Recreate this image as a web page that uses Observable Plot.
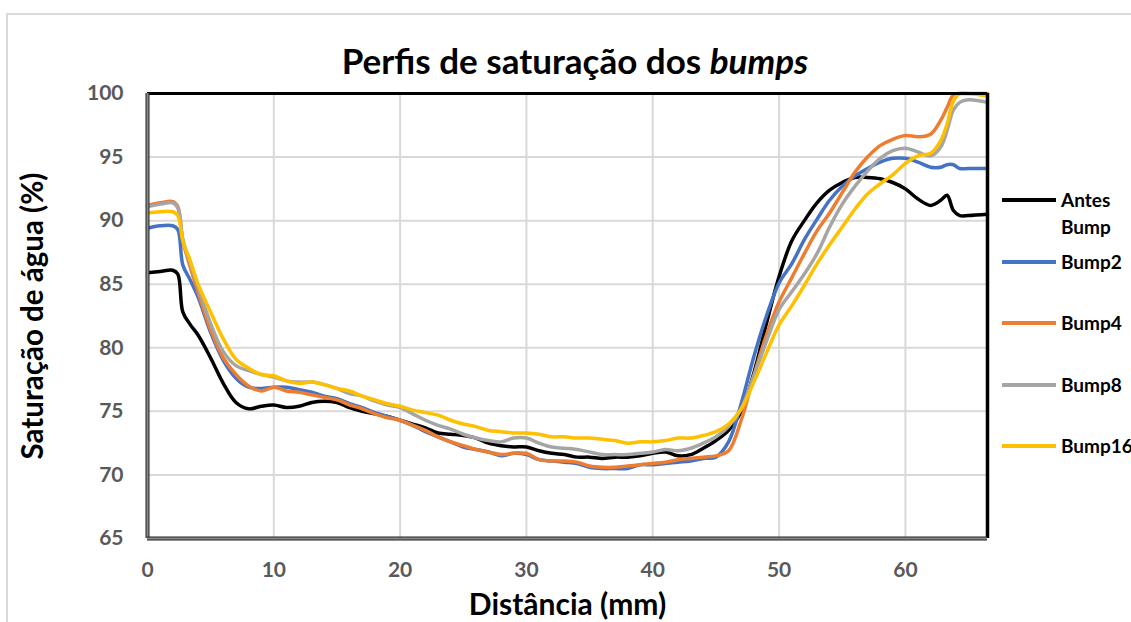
<!DOCTYPE html>
<html>
<head>
<meta charset="utf-8">
<script src="https://cdn.jsdelivr.net/npm/d3@7"></script>
<script src="https://cdn.jsdelivr.net/npm/@observablehq/plot@0.6"></script>
<style>
  html, body { margin: 0; padding: 0; background: #fff; overflow: hidden; width: 1131px; height: 622px; }
  body { font-family: Lato, "Open Sans", sans-serif; position: relative; }
  #border { position: absolute; left: 6px; top: 13px; width: 1200px; height: 700px; border-left: 2px solid #d9d9d9; border-top: 2px solid #d9d9d9; }
  #title { position: relative; height: 80px; box-sizing: border-box; padding-top: 40px; padding-left: 19px; text-align: center; font-size: 35px; line-height: 40px; font-weight: bold; color: #000; }
  #chart { position: relative; }
  #legend { position: absolute; left: 0; top: 0; }
  .item { position: absolute; left: 1002px; display: flex; align-items: flex-start; font-weight: bold; font-size: 19px; line-height: 27px; color: #000; white-space: nowrap; }
  .sw { width: 54px; height: 3.5px; margin-top: 12px; margin-right: 5px; flex: none; }
  .lab { width: 62px; white-space: normal; }
</style>
</head>
<body>
<div id="border"></div>
<div id="title">Perfis de saturação dos <i>bumps</i></div>
<div id="chart"></div>
<div id="legend"></div>
<script>
// ---- data ----
const distance = [0, 1, 2, 2.4, 2.8, 3.4, 4, 5, 6, 7, 8, 9, 10, 11, 12, 13, 14, 15, 16, 17, 18, 19, 20, 21, 22, 23, 24, 25, 26, 27, 28, 29, 30, 31, 32, 33, 34, 35, 36, 37, 38, 39, 40, 41, 42, 43, 44, 45, 46, 47, 48, 49, 50, 51, 52, 53, 54, 55, 56, 57, 58, 59, 60, 61, 62, 62.8, 63.3, 63.8, 64.3, 65, 66.5];

const antesBump = [85.9, 86.0, 86.1, 85.8, 82.8, 81.8, 81.0, 79.2, 77.2, 75.7, 75.2, 75.4, 75.5, 75.3, 75.4, 75.7, 75.8, 75.7, 75.3, 75.0, 74.8, 74.6, 74.3, 74.0, 73.7, 73.3, 73.2, 73.1, 72.9, 72.5, 72.3, 72.2, 72.2, 71.9, 71.7, 71.6, 71.4, 71.4, 71.3, 71.4, 71.4, 71.5, 71.7, 71.8, 71.5, 71.6, 72.1, 72.7, 73.5, 75.0, 78.0, 81.9, 85.6, 88.4, 90.0, 91.4, 92.4, 93.0, 93.4, 93.4, 93.3, 93.0, 92.5, 91.7, 91.2, 91.6, 92.0, 90.8, 90.4, 90.4, 90.5];

const bump2 = [89.4, 89.6, 89.6, 89.3, 86.5, 85.3, 84.0, 81.2, 79.0, 77.6, 76.9, 76.8, 76.9, 76.9, 76.7, 76.5, 76.2, 76.0, 75.6, 75.3, 74.9, 74.6, 74.3, 73.9, 73.4, 73.0, 72.6, 72.2, 72.0, 71.8, 71.5, 71.7, 71.6, 71.2, 71.1, 71.0, 70.9, 70.6, 70.5, 70.5, 70.5, 70.8, 70.8, 70.9, 71.0, 71.1, 71.3, 71.4, 72.6, 75.6, 79.3, 82.5, 85.1, 86.6, 88.5, 90.1, 91.6, 92.7, 93.5, 94.1, 94.6, 94.9, 94.9, 94.6, 94.2, 94.2, 94.4, 94.4, 94.1, 94.1, 94.1];

const bump4 = [91.2, 91.4, 91.5, 91.1, 88.4, 86.3, 84.4, 81.4, 79.2, 77.9, 77.0, 76.6, 76.9, 76.6, 76.5, 76.3, 76.1, 75.9, 75.5, 75.2, 74.8, 74.5, 74.3, 73.9, 73.5, 73.0, 72.6, 72.3, 72.0, 71.8, 71.6, 71.7, 71.7, 71.2, 71.1, 71.1, 71.0, 70.7, 70.6, 70.6, 70.7, 70.8, 70.9, 71.0, 71.2, 71.3, 71.4, 71.5, 71.9, 74.3, 77.8, 81.0, 83.6, 85.5, 87.4, 89.2, 90.6, 92.2, 93.8, 95.0, 95.9, 96.4, 96.7, 96.6, 96.8, 97.9, 98.9, 99.9, 100.0, 100.0, 100.0];

const bump8 = [91.1, 91.3, 91.4, 91.0, 88.5, 86.6, 84.8, 81.9, 79.7, 78.6, 78.2, 77.9, 77.7, 77.4, 77.3, 77.3, 77.1, 76.8, 76.4, 76.2, 75.8, 75.5, 75.3, 74.8, 74.3, 73.9, 73.6, 73.2, 72.9, 72.7, 72.6, 72.9, 72.9, 72.5, 72.2, 72.1, 72.0, 71.8, 71.6, 71.6, 71.6, 71.7, 71.8, 72.0, 71.9, 72.1, 72.5, 73.0, 73.8, 75.2, 77.8, 80.5, 83.0, 84.4, 85.8, 87.4, 89.5, 91.3, 92.7, 93.9, 94.9, 95.5, 95.7, 95.4, 95.1, 95.8, 97.1, 98.7, 99.3, 99.5, 99.3];

const bump16 = [90.6, 90.7, 90.7, 90.4, 88.4, 86.8, 85.0, 82.8, 80.7, 79.1, 78.4, 77.9, 77.8, 77.4, 77.2, 77.3, 77.1, 76.8, 76.6, 76.2, 75.9, 75.6, 75.4, 75.1, 74.9, 74.7, 74.3, 74.0, 73.8, 73.5, 73.4, 73.3, 73.3, 73.2, 73.0, 73.0, 72.9, 72.9, 72.8, 72.7, 72.5, 72.6, 72.6, 72.7, 72.9, 72.9, 73.1, 73.4, 74.0, 75.2, 77.3, 79.6, 81.8, 83.3, 84.9, 86.6, 88.1, 89.5, 90.9, 92.1, 92.9, 93.6, 94.5, 95.1, 95.3, 96.3, 97.6, 99.4, 100.0, 100.0, 99.8];

const seriesNames = ["Antes Bump", "Bump2", "Bump4", "Bump8", "Bump16"];
const seriesColors = ["#000000", "#4472C4", "#ED7D31", "#A5A5A5", "#FFC000"];
const seriesValues = [antesBump, bump2, bump4, bump8, bump16];

const xTicks = [0, 10, 20, 30, 40, 50, 60];
const yTicks = [65, 70, 75, 80, 85, 90, 95, 100];
const xDomain = [0, 66.5];
const yDomain = [65, 100];

// ---- build table ----
const rows = [];
seriesNames.forEach((name, s) => {
  distance.forEach((d, i) => rows.push({series: name, x: d, y: seriesValues[s][i]}));
});

const tickFont = {fontSize: 21, fontWeight: "bold", fill: "#595959"};

const chart = Plot.plot({
  width: 1131,
  height: 542,
  marginTop: 13,
  marginBottom: 84,
  marginLeft: 147,
  marginRight: 144,
  style: {fontFamily: "Lato, 'Open Sans', sans-serif", background: "transparent", overflow: "visible"},
  x: {domain: xDomain, ticks: xTicks},
  y: {domain: yDomain, ticks: yTicks},
  color: {domain: seriesNames, range: seriesColors},
  marks: [
    Plot.ruleX(xTicks, {stroke: "#d9d9d9", strokeWidth: 2}),
    Plot.ruleY(yTicks, {stroke: "#d9d9d9", strokeWidth: 2}),
    Plot.axisX({ticks: xTicks, tickSize: 0, tickPadding: 24, label: null, ...tickFont}),
    Plot.axisY({ticks: yTicks, tickSize: 0, tickPadding: 24, label: null, ...tickFont}),
    Plot.text(["Distância (mm)"], {frameAnchor: "bottom", lineAnchor: "middle", dy: 67, fontSize: 30, fontWeight: "bold", fill: "#000"}),
    Plot.text(["Saturação de água (%)"], {frameAnchor: "left", lineAnchor: "middle", textAnchor: "middle", rotate: -90, dx: -114, fontSize: 29.5, fontWeight: "bold", fill: "#000"}),
    Plot.line(rows, {x: "x", y: "y", z: "series", stroke: "series", strokeWidth: 3.5, curve: "catmull-rom"}),
    Plot.ruleY([yDomain[1]], {stroke: "#000", strokeWidth: 3}),
    Plot.ruleX([xDomain[1]], {stroke: "#000", strokeWidth: 3.5}),
    Plot.ruleX([xDomain[0]], {stroke: "#222", strokeWidth: 4}),
    Plot.ruleX([xDomain[0]], {stroke: "#8a8a8a", strokeWidth: 2}),
    Plot.ruleY([yDomain[0]], {stroke: "#222", strokeWidth: 4}),
    Plot.ruleY([yDomain[0]], {stroke: "#8a8a8a", strokeWidth: 2})
  ]
});
document.getElementById("chart").appendChild(chart);

// ---- legend ----
const legend = document.getElementById("legend");
const legendTop = [186, 248, 309, 371, 432];
seriesNames.forEach((name, i) => {
  const item = document.createElement("div");
  item.className = "item";
  item.style.top = legendTop[i] + "px";
  const sw = document.createElement("div");
  sw.className = "sw";
  sw.style.background = seriesColors[i];
  const lab = document.createElement("div");
  lab.className = "lab";
  lab.textContent = name;
  item.appendChild(sw);
  item.appendChild(lab);
  legend.appendChild(item);
});
</script>
</body>
</html>
